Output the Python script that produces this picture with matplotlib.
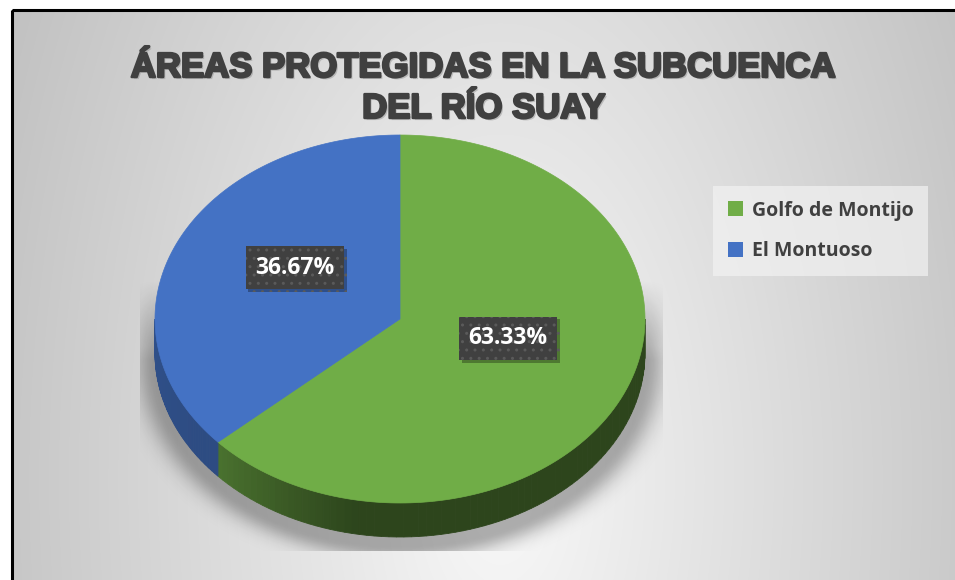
import numpy as np
import matplotlib
matplotlib.use("Agg")
import matplotlib.pyplot as plt
from matplotlib.patches import Polygon, Rectangle, Patch
import matplotlib.patheffects as pe

# Données
categories = ['Golfo de Montijo', 'El Montuoso']
valeurs = [63.33, 36.67]
couleurs = ['#70ad47', '#4472c4']
titre_l1 = "ÁREAS PROTEGIDAS EN LA SUBCUENCA"
titre_l2 = "DEL RÍO SUAY"

W, H = 955, 580
fig = plt.figure(figsize=(W / 100, H / 100), dpi=100)
ax = fig.add_axes([0, 0, 1, 1])
ax.set_xlim(0, W)
ax.set_ylim(H, 0)
ax.axis('off')

# Fond dégradé radial (gris)
x0, y0 = 12, 10
xx, yy = np.meshgrid(np.linspace(x0, W, 400), np.linspace(y0, H, 300))
t = np.sqrt(((xx - 500) / 480) ** 2 + ((yy - 480) / 900) ** 2)
t = np.clip(t, 0, 1.2)
g = 0.975 - 0.19 * t
fond = np.dstack([g, g, g])
ax.imshow(fond, extent=(x0, W, H, y0), aspect='auto', zorder=0, interpolation='bilinear')
ax.add_patch(Rectangle((x0, y0), W + 20, H + 20, fill=False, edgecolor='black', lw=2.2, zorder=10))

# Géométrie du camembert 3D
cx, cy, a, b, ep = 400, 319, 245, 184, 34

def pt(theta_deg, dy=0):
    th = np.radians(theta_deg)
    return cx + a * np.cos(th), cy - b * np.sin(th) + dy

# Ombre portée douce (sous le camembert)
sx, sy = np.meshgrid(np.linspace(140, 662, 300), np.linspace(150, 551, 240))
r1 = np.sqrt(((sx - cx) / a) ** 2 + ((sy - cy - 10) / b) ** 2)
r2 = np.sqrt(((sx - cx) / a) ** 2 + ((sy - cy - ep - 10) / b) ** 2)
r = np.minimum(r1, r2)
alpha = np.where(r < 1, 0.3, 0.3 * np.exp(-((r - 1) / 0.08) ** 2))
alpha *= np.clip((sy - 280) / 80, 0, 1)
ombre = np.zeros((sx.shape[0], sx.shape[1], 4))
ombre[..., 3] = alpha
ax.imshow(ombre, extent=(140, 662, 551, 150), aspect='auto', zorder=1, interpolation='bilinear')

# Angles des parts (départ en haut, sens horaire)
fractions = np.array(valeurs) / sum(valeurs)
bords = 90 - 360 * np.concatenate([[0], np.cumsum(fractions)])

def teinte(theta):
    return np.interp(theta, [-180, -138, -100, 0], [0.70, 0.66, 0.40, 0.40])

# Faces latérales visibles (avant)
for i, col in enumerate(couleurs):
    hi, lo = bords[i], bords[i + 1]
    debut, fin = max(lo, -180), min(hi, 0)
    if debut >= fin:
        continue
    thetas = np.linspace(debut, fin, 80)
    base = np.array(matplotlib.colors.to_rgb(col))
    for t1, t2 in zip(thetas[:-1], thetas[1:]):
        p1, p2 = pt(t1), pt(t2)
        q1, q2 = pt(t1, ep), pt(t2, ep)
        c = base * teinte((t1 + t2) / 2)
        ax.add_patch(Polygon([p1, p2, q2, q1], closed=True, facecolor=c,
                             edgecolor=c, lw=0.6, zorder=2))

# Faces supérieures
for i, col in enumerate(couleurs):
    thetas = np.linspace(bords[i], bords[i + 1], 200)
    pts = [(cx, cy)] + [pt(th) for th in thetas]
    ax.add_patch(Polygon(pts, closed=True, facecolor=col, edgecolor=col, lw=0.5, zorder=3))

# Étiquettes de pourcentage
for i in range(len(valeurs)):
    mid = np.radians((bords[i] + bords[i + 1]) / 2)
    lx = cx + 0.47 * a * np.cos(mid) + 3 * (i == 0)
    ly = cy - 0.47 * b * np.sin(mid) - 16
    etq = ax.text(lx, ly, f"{valeurs[i]:.2f}%", fontsize=16.5, fontweight='bold',
                  family='Open Sans', color='white', ha='center', va='center', zorder=5,
                  bbox=dict(boxstyle='square,pad=0.42', facecolor='#404040',
                            edgecolor='#5a5a5a', hatch='..', lw=0))
    etq.get_bbox_patch().set_path_effects(
        [pe.withSimplePatchShadow(offset=(2, -2), shadow_rgbFace='black', alpha=0.3)])

# Titre
effets = [pe.withSimplePatchShadow(offset=(1.5, -1.5), shadow_rgbFace='#808080', alpha=0.4),
          pe.withStroke(linewidth=1.8, foreground='#404040')]
for y_txt, ligne in [(77, titre_l1), (118, titre_l2)]:
    ax.text(484, y_txt, ligne, ha='center', va='baseline', fontsize=25, fontweight='bold',
            family=['Liberation Sans', 'DejaVu Sans'], color='#404040', zorder=6,
            path_effects=effets)

# Légende
poignees = [Patch(facecolor=c, edgecolor='none') for c in couleurs]
leg = ax.legend(poignees, categories, loc='upper left', bbox_to_anchor=(713, 186),
                bbox_transform=ax.transData, frameon=True, fancybox=False,
                prop={'family': 'Open Sans', 'weight': 'bold', 'size': 14},
                labelcolor='#404040', handlelength=0.8, handleheight=0.8,
                handletextpad=0.45, labelspacing=1.05, borderpad=0.75, borderaxespad=0)
leg.get_frame().set_facecolor('#f2f2f2')
leg.get_frame().set_alpha(0.7)
leg.get_frame().set_linewidth(0)
leg.set_zorder(6)

fig.savefig('out.png', dpi=100)
